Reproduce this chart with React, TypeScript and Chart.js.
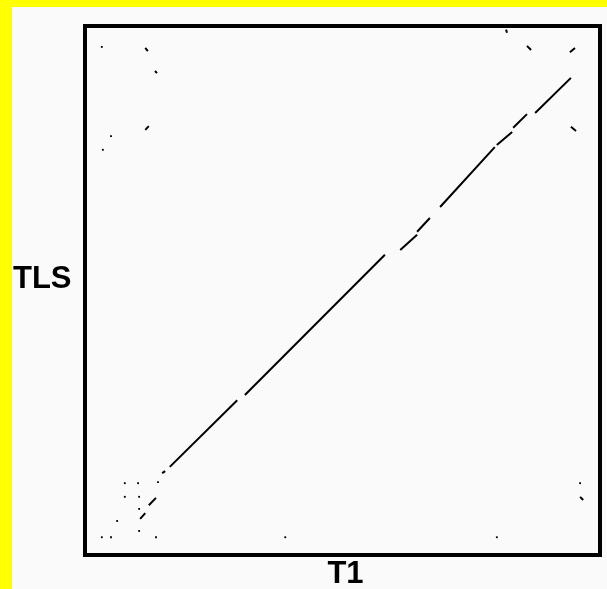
import { useEffect, useRef } from "react";
import { Chart, registerables } from "chart.js";

Chart.register(...registerables);

const xLabel = "T1";
const yLabel = "TLS";
const axisMin = 0;
const axisMax = 1000;

// [T1 start, TLS start, T1 end, TLS end]
const diagonalSegments: number[][] = [
  [147, 152, 153, 156],
  [162, 164, 294, 291],
  [309, 301, 583, 568],
  [613, 577, 646, 606],
  [646, 612, 671, 638],
  [691, 659, 798, 773],
  [802, 777, 832, 802],
  [834, 810, 861, 836],
  [877, 838, 947, 905],
];

const offDiagonalSegments: number[][] = [
  [114, 962, 119, 956],
  [133, 918, 137, 914],
  [114, 806, 121, 813],
  [820, 997, 822, 991],
  [861, 966, 869, 958],
  [945, 954, 955, 962],
  [947, 812, 957, 804],
  [121, 91, 135, 105],
  [104, 65, 114, 76],
  [965, 107, 971, 101],
];

// [T1, TLS]
const dots: number[][] = [
  [29, 964], [47, 794], [31, 768],
  [139, 135], [74, 133], [100, 133],
  [74, 107], [102, 107], [102, 84],
  [59, 61], [102, 42],
  [29, 30], [47, 30], [135, 30],
  [388, 30], [802, 30], [965, 133],
];

function segData(segs: number[][]) {
  const out: { x: number; y: number }[] = [];
  segs.forEach(([x1, y1, x2, y2]) => {
    out.push({ x: x1, y: y1 });
    out.push({ x: x2, y: y2 });
    out.push({ x: NaN, y: NaN });
  });
  return out;
}

const framePlugin = {
  id: "frameAndLabels",
  afterDraw(chart: any) {
    const { ctx, chartArea } = chart;
    const { left, right, top, bottom } = chartArea;
    ctx.save();
    ctx.strokeStyle = "#000";
    ctx.lineWidth = 4;
    ctx.strokeRect(left - 2, top - 2, right - left + 4, bottom - top + 4);
    ctx.fillStyle = "#000";
    ctx.font = "bold 31px Arial, 'Liberation Sans', sans-serif";
    ctx.textBaseline = "alphabetic";
    ctx.textAlign = "left";
    ctx.fillText(yLabel, left - 74, (top + bottom) / 2 - 3);
    ctx.textAlign = "center";
    ctx.fillText(xLabel, (left + right) / 2 + 3, bottom + 30);
    ctx.restore();
  },
};

export default function App() {
  const ref = useRef<HTMLCanvasElement>(null);
  useEffect(() => {
    if (!ref.current) return;
    const chart = new Chart(ref.current, {
      type: "scatter",
      data: {
        datasets: [
          {
            label: "diagonal",
            data: segData(diagonalSegments),
            showLine: true,
            spanGaps: false,
            borderColor: "#000",
            borderWidth: 2,
            pointRadius: 0,
          },
          {
            label: "off-diagonal",
            data: segData(offDiagonalSegments),
            showLine: true,
            spanGaps: false,
            borderColor: "#000",
            borderWidth: 2,
            pointRadius: 0,
          },
          {
            label: "dots",
            data: dots.map(([x, y]) => ({ x, y })),
            showLine: false,
            pointStyle: "rect",
            pointRadius: 1.3,
            pointBackgroundColor: "#000",
            pointBorderWidth: 0,
          },
        ],
      },
      options: {
        animation: false,
        responsive: false,
        devicePixelRatio: 1,
        layout: { padding: { left: 87, right: 9, top: 28, bottom: 36 } },
        plugins: { legend: { display: false }, tooltip: { enabled: false } },
        scales: {
          x: { type: "linear", min: axisMin, max: axisMax, display: false },
          y: { type: "linear", min: axisMin, max: axisMax, display: false },
        },
      },
      plugins: [framePlugin],
    });
    return () => chart.destroy();
  }, []);

  return (
    <div
      style={{
        position: "fixed",
        left: 0,
        top: 0,
        width: 607,
        height: 589,
        background: "#fafafa",
        overflow: "hidden",
      }}
    >
      <div style={{ position: "absolute", left: 0, top: 0, width: 607, height: 7, background: "#ffff00" }} />
      <div style={{ position: "absolute", left: 0, top: 0, width: 12, height: 589, background: "#ffff00" }} />
      <canvas
        ref={ref}
        width={607}
        height={589}
        style={{ position: "absolute", left: 0, top: 0 }}
      />
    </div>
  );
}
